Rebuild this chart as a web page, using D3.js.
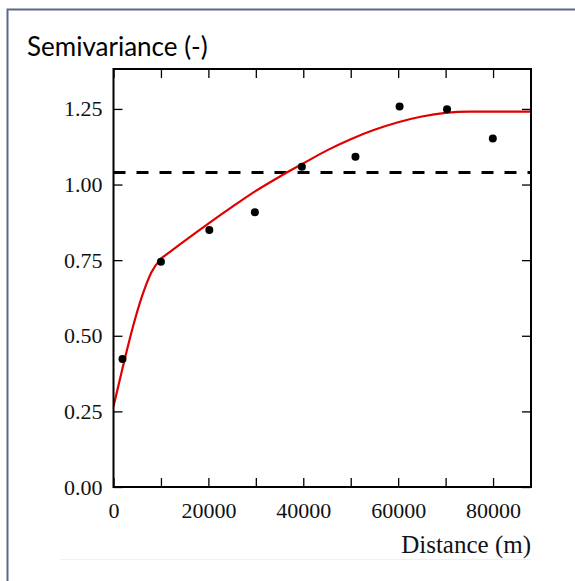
<!DOCTYPE html>
<html>
<head>
<meta charset="utf-8">
<script src="https://cdn.jsdelivr.net/npm/d3@7/dist/d3.min.js"></script>
<style>
  html, body { margin: 0; padding: 0; background: #fff; }
  svg { display: block; }
</style>
</head>
<body>
<svg id="chart" width="575" height="581"></svg>
<script>
// Experimental semivariogram: lag distance (m) vs semivariance
const lagDistance  = [1900, 10000, 20200, 29800, 39700, 51000, 60300, 70300, 79950];
const semivariance = [0.423, 0.745, 0.850, 0.908, 1.059, 1.092, 1.258, 1.249, 1.152];

// Fitted model curve (nugget + short and long range structures)
const modelDistance = [0, 2000, 4000, 6000, 8000, 10000, 15000, 20000, 25000, 30000,
                       35000, 40000, 45000, 50000, 55000, 60000, 65000, 70000, 75000, 88000];
const modelValue    = [0.266, 0.399, 0.524, 0.630, 0.710, 0.755, 0.814, 0.871, 0.926, 0.979,
                       1.026, 1.070, 1.113, 1.150, 1.181, 1.206, 1.225, 1.237, 1.241, 1.241];
// range of the short structure, where the model slope changes abruptly
const shortRange = 10000;

// Sample variance (horizontal reference)
const sampleVariance = 1.04;

const xTickValues = [0, 10000, 20000, 30000, 40000, 50000, 60000, 70000, 80000];
const xTickLabels = ["0", "", "20000", "", "40000", "", "60000", "", "80000"];
const yTickValues = [0, 0.25, 0.5, 0.75, 1.0, 1.25];
const yTickLabels = ["0.00", "0.25", "0.50", "0.75", "1.00", "1.25"];

const yTitle = "Semivariance (-)";
const xTitle = "Distance (m)";

const svg = d3.select("#chart");
const W = 575, H = 581;
const m = { left: 113.5, right: 44, top: 69, bottom: 94 };
const iw = W - m.left - m.right, ih = H - m.top - m.bottom;

// outer panel border (runs off the right and bottom edges)
svg.append("rect")
  .attr("x", 7.5).attr("y", 9.5)
  .attr("width", 700).attr("height", 700)
  .attr("fill", "none")
  .attr("stroke", "#5b6987")
  .attr("stroke-width", 2);

// faint lower edge of the inner figure
svg.append("line")
  .attr("x1", 60).attr("x2", 531)
  .attr("y1", 559.5).attr("y2", 559.5)
  .attr("stroke", "#f0f0f0").attr("stroke-width", 1);

const x = d3.scaleLinear().domain([0, 88000]).range([0, iw]);
const y = d3.scaleLinear().domain([0, 1.382]).range([ih, 0]);

const g = svg.append("g").attr("transform", `translate(${m.left},${m.top})`);

const serif = "'Liberation Serif', 'Times New Roman', serif";
const tickLen = 9;

function styleAxis(sel) {
  sel.select(".domain").remove();
  sel.selectAll(".tick line").attr("stroke", "#000").attr("stroke-width", 1.3);
  sel.selectAll(".tick text")
    .attr("font-family", serif)
    .attr("font-size", 22)
    .attr("fill", "#111");
}

// bottom axis with labels
g.append("g")
  .attr("transform", `translate(0,${ih})`)
  .call(d3.axisBottom(x).tickValues(xTickValues)
    .tickSize(-tickLen).tickPadding(15)
    .tickFormat((d, i) => xTickLabels[i]))
  .call(styleAxis);

// top mirror ticks
g.append("g")
  .call(d3.axisTop(x).tickValues(xTickValues)
    .tickSize(-tickLen).tickFormat(""))
  .call(styleAxis);

// left axis with labels
g.append("g")
  .call(d3.axisLeft(y).tickValues(yTickValues)
    .tickSize(-tickLen).tickPadding(11)
    .tickFormat((d, i) => yTickLabels[i]))
  .call(styleAxis);

// right mirror ticks
g.append("g")
  .attr("transform", `translate(${iw},0)`)
  .call(d3.axisRight(y).tickValues(yTickValues)
    .tickSize(-tickLen).tickFormat(""))
  .call(styleAxis);

// clip for data marks
svg.append("defs").append("clipPath").attr("id", "plotClip")
  .append("rect").attr("width", iw).attr("height", ih);

const plot = g.append("g").attr("clip-path", "url(#plotClip)");

// sample variance line
plot.append("line")
  .attr("x1", 0).attr("x2", iw)
  .attr("y1", y(sampleVariance)).attr("y2", y(sampleVariance))
  .attr("stroke", "#000")
  .attr("stroke-width", 3)
  .attr("stroke-dasharray", "12,11");

// fitted model: smooth within each structure, sharp change at the short range
const model = modelDistance.map((d, i) => [d, modelValue[i]]);
const modelLine = d3.line().x(d => x(d[0])).y(d => y(d[1])).curve(d3.curveMonotoneX);
const segments = [model.filter(d => d[0] <= shortRange), model.filter(d => d[0] >= shortRange)];
plot.selectAll("path.model")
  .data(segments)
  .join("path")
  .attr("class", "model")
  .attr("fill", "none")
  .attr("stroke", "#e00000")
  .attr("stroke-width", 2.2)
  .attr("stroke-linejoin", "round")
  .attr("d", modelLine);

// experimental points
plot.selectAll("circle.pt")
  .data(lagDistance.map((d, i) => [d, semivariance[i]]))
  .join("circle")
  .attr("class", "pt")
  .attr("cx", d => x(d[0]))
  .attr("cy", d => y(d[1]))
  .attr("r", 4)
  .attr("fill", "#000");

// plot frame
g.append("rect")
  .attr("width", iw).attr("height", ih)
  .attr("fill", "none")
  .attr("stroke", "#000")
  .attr("stroke-width", 2);

// axis titles
svg.append("text")
  .attr("x", 27).attr("y", 56)
  .attr("font-family", "Lato, 'Open Sans', sans-serif")
  .attr("font-size", 26)
  .attr("fill", "#000")
  .text(yTitle);

svg.append("text")
  .attr("x", 531).attr("y", 553)
  .attr("text-anchor", "end")
  .attr("font-family", serif)
  .attr("font-size", 25)
  .attr("fill", "#111")
  .text(xTitle);
</script>
</body>
</html>
